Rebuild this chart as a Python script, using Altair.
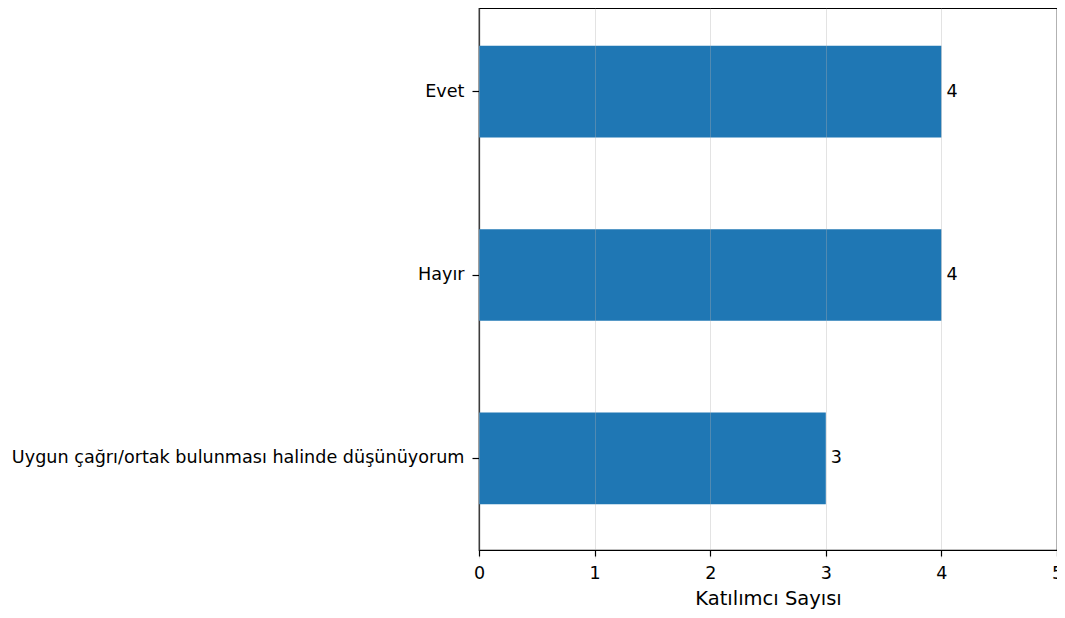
import altair as alt
import pandas as pd

categories = ["Evet", "Hayır", "Uygun çağrı/ortak bulunması halinde düşünüyorum"]
values = [4, 4, 3]
x_ticks = [0, 1, 2, 3, 4, 5]

df = pd.DataFrame({"cat": categories, "val": values})
FONT = "DejaVu Sans"

y_scale = alt.Scale(domain=categories, paddingInner=0.5, paddingOuter=0.25, range=[-8, 542])
x_scale = alt.Scale(domain=[0, 5], nice=False)

bars = alt.Chart(df).mark_bar(color="#1f77b4").encode(
    x=alt.X("val:Q", scale=x_scale,
            axis=alt.Axis(title="Katılımcı Sayısı", values=x_ticks, format="d",
                          grid=True, gridColor="#b0b0b0", gridOpacity=0.35,
                          zindex=1, labelFontSize=17.5, titleFontSize=19.5,
                          titleFontWeight="normal", labelColor="black",
                          titleColor="black", tickColor="black", domainColor="black",
                          tickSize=6, tickWidth=1.2, domainWidth=1.2,
                          labelPadding=8, titlePadding=8,
                          labelFont=FONT, titleFont=FONT, labelFlush=False)),
    y=alt.Y("cat:N", scale=y_scale, sort=categories,
            axis=alt.Axis(title=None, labelFontSize=17.6, labelColor="black",
                          tickColor="black", domainColor="black", tickSize=7,
                          tickWidth=1.2, domainWidth=1.2,
                          labelPadding=8, labelFont=FONT, labelLimit=1000)),
)

labels = alt.Chart(df).mark_text(align="left", baseline="middle", dx=5,
                                 fontSize=17.5, font=FONT, color="black").encode(
    x=alt.X("val:Q", scale=x_scale),
    y=alt.Y("cat:N", scale=y_scale, sort=categories),
    text=alt.Text("val:Q", format="d"),
)

chart = alt.layer(bars, labels).properties(
    width=578, height=542,
    padding={"left": 471, "top": 0, "right": 0, "bottom": 60},
    autosize=alt.AutoSizeParams(type="none"),
).configure_view(stroke="black", strokeWidth=1.2)

chart.save("out.html", embed_options={"renderer": "svg", "actions": False})
